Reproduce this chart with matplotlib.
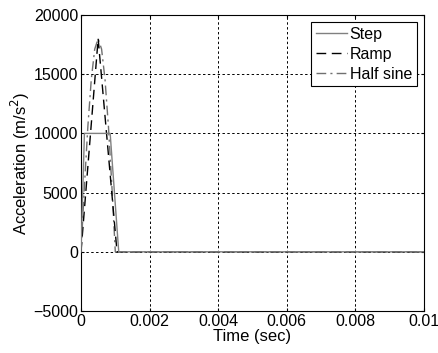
import numpy as np
import matplotlib.pyplot as plt

plt.rcParams['font.family'] = ['Liberation Sans', 'DejaVu Sans']

# step pulse
step_t = [0, 0.0001, 0.00085, 0.0011, 0.01]
step_a = [0, 10000, 10000, 0, 0]

# ramp (triangle) pulse
ramp_t = [0, 0.0005, 0.00105, 0.01]
ramp_a = [0, 18000, 0, 0]

# half sine pulse
sine_t = [0, 0.0001, 0.0002, 0.0003, 0.0004, 0.0005, 0.0006, 0.0007, 0.0008, 0.0009, 0.001, 0.01]
sine_a = [0, 5560, 10580, 14560, 17120, 18000, 17120, 14560, 10580, 5560, 0, 0]

fig = plt.figure(figsize=(4.39, 3.53), dpi=100)
ax = fig.add_axes([0.1845, 0.119, 0.7815, 0.8385])

ax.plot(step_t, step_a, color='#808080', linewidth=1.0, label='Step', zorder=4)
ax.plot(ramp_t, ramp_a, color='black', linewidth=1.0, linestyle=(0, (7, 4)), label='Ramp', zorder=3)
ax.plot(sine_t, sine_a, color='#707070', linewidth=1.0, linestyle=(0, (7, 3, 1.5, 3)), label='Half sine', zorder=2)

ax.set_xlim(0, 0.01)
ax.set_ylim(-5000, 20000)
ax.set_xticks([0, 0.002, 0.004, 0.006, 0.008, 0.01])
ax.set_xticklabels(['0', '0.002', '0.004', '0.006', '0.008', '0.01'])
ax.set_yticks([-5000, 0, 5000, 10000, 15000, 20000])
ax.tick_params(labelsize=11.5, direction='in', length=2, top=True, right=True, pad=2)
ax.grid(True, linestyle=(0, (2.5, 2.5)), color='black', linewidth=0.7)

ax.set_xlabel('Time (sec)', fontsize=12, labelpad=0)
ax.set_ylabel('Acceleration (m/s$^2$)', fontsize=12, labelpad=1)

leg = ax.legend(loc='upper right', fontsize=11.5, frameon=True, fancybox=False,
                framealpha=1, edgecolor='black', handlelength=1.9, borderaxespad=0.45,
                handletextpad=0.2, labelspacing=0.3, borderpad=0.3)
leg.get_frame().set_linewidth(0.8)

fig.savefig('out.png', dpi=100)
